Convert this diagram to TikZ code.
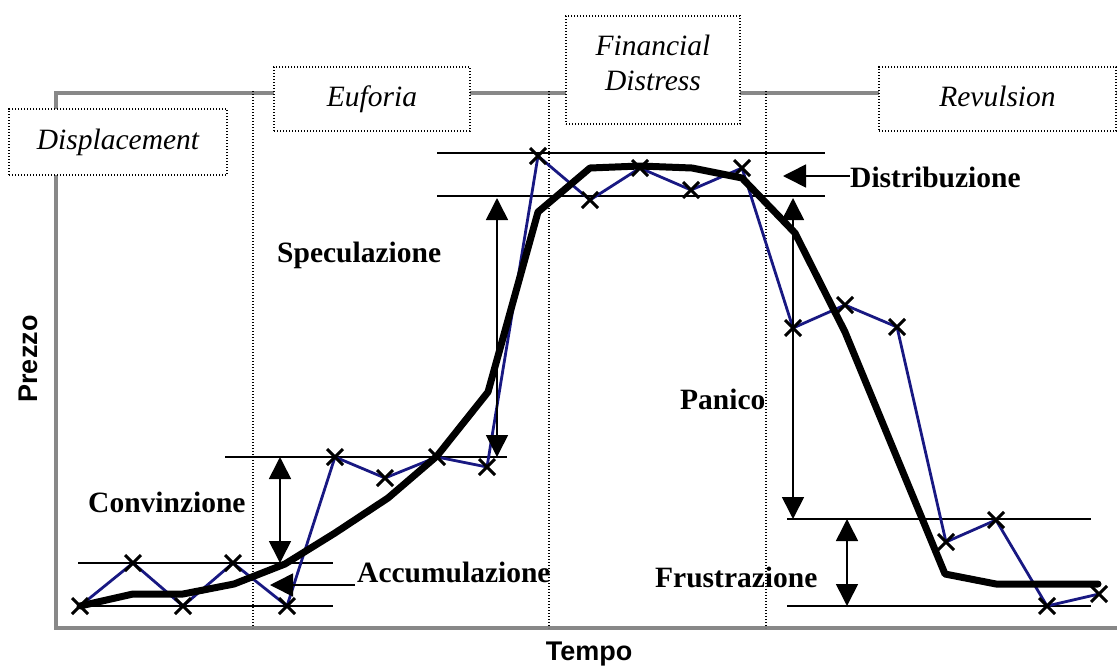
\documentclass[tikz,border=0pt]{standalone}
\usepackage{fontspec}
\setmainfont{Liberation Serif}
\newfontfamily\axisfont{Liberation Sans}
\usetikzlibrary{arrows.meta}
\definecolor{framegray}{RGB}{136,136,136}
\definecolor{pricenavy}{RGB}{24,24,130}
\begin{document}
\begin{tikzpicture}[x=1pt,y=-1pt,
  frameline/.style={draw=framegray,line width=4pt},
  phasesep/.style={line width=1.3pt,dash pattern=on 1.3pt off 1.7pt},
  phasebox/.style={draw,fill=white,line width=1.5pt,dash pattern=on 1.3pt off 1.7pt,
    inner sep=0pt,font=\fontsize{29.5}{35}\selectfont\itshape,text height=20pt,text depth=6pt},
  phasetext/.style={inner sep=0pt,font=\fontsize{29.5}{35}\selectfont\itshape,align=center},
  stage/.style={inner sep=0pt,font=\fontsize{29.5}{35}\selectfont\bfseries,anchor=base west},
  axislabel/.style={inner sep=0pt,font=\axisfont\fontsize{27}{31}\selectfont\bfseries},
  level/.style={line width=1.6pt},
  dimarrow/.style={line width=1.6pt,{Triangle[width=22pt,length=22pt]}-{Triangle[width=22pt,length=22pt]}},
  onearrow/.style={line width=1.6pt,-{Triangle[width=23pt,length=23pt]}},
  price/.style={draw=pricenavy,line width=2.8pt,line join=round},
  trend/.style={line width=7pt,line join=round,line cap=round},
  xcross/.pic={\draw[line width=3pt] (-8,-8)--(8,8) (-8,8)--(8,-8);}
]
\useasboundingbox (0,0) rectangle (1117,665);

% frame
\draw[frameline] (56,628) -- (56,93) -- (1117,93);
\draw[frameline] (54,628) -- (1117,628);

% phase separators
\foreach \sx in {253,549,766} \draw[phasesep] (\sx,91) -- (\sx,628);

% phase boxes
\node[phasebox,minimum width=218pt,minimum height=66pt] (displ) at (118,142) {Displacement};
\node[phasebox,minimum width=196pt,minimum height=64pt] (eufo) at (372,99) {Euforia};
\node[phasebox,minimum width=174pt,minimum height=108pt] (fdist) at (653,70) {};
\node[phasetext] (fdtext) at (653,62.5) {Financial\\Distress};
\node[phasebox,minimum width=237pt,minimum height=64pt] (revul) at (997.5,99) {Revulsion};

% level lines
\draw[level] (78,563) -- (333,563);
\draw[level] (78,606) -- (333,606);
\draw[level] (225,457) -- (507,457);
\draw[level] (437,153) -- (825,153);
\draw[level] (437,196) -- (825,196);
\draw[level] (787,519) -- (1091,519);
\draw[level] (787,606) -- (1091,606);

% price line
\draw[price] (80,606) -- (133,563) -- (183,606) -- (233,563) -- (287,606) -- (335,457)
  -- (385,478) -- (437,457) -- (487,467) -- (538,156) -- (590,200) -- (640,168)
  -- (691,190) -- (742,168) -- (793,328) -- (845,305) -- (897,327) -- (946,542)
  -- (996,520) -- (1047,606) -- (1099,594);

% trend line
\draw[trend] (80,606) -- (133,594) -- (183,594) -- (234,584) -- (285,564) -- (335,533)
  -- (388,498) -- (437,456) -- (488,392) -- (538,212) -- (590,168) -- (640,166)
  -- (692,168) -- (742,178) -- (795,233) -- (845,332) -- (945,574) -- (996,584) -- (1098,584);

% markers
\foreach \px/\py in {80/606,133/563,183/606,233/563,287/606,335/457,385/478,437/457,
  487/467,538/156,590/200,640/168,691/190,742/168,793/328,845/305,897/327,946/542,
  996/520,1047/606,1099/594}
  \pic at (\px,\py) {xcross};

% stage labels
\node[stage] (spec) at (277,262) {Speculazione};
\node[stage] (conv) at (88,512) {Convinzione};
\node[stage] (accu) at (357,582) {Accumulazione};
\node[stage] (distr) at (850,187) {Distribuzione};
\node[stage] (pani) at (680,409) {Panico};
\node[stage] (frus) at (655,587) {Frustrazione};

% arrows
\coordinate (convA) at (280,457);
\coordinate (convB) at (280,563);
\coordinate (specA) at (497,198);
\coordinate (specB) at (497,457);
\coordinate (panA) at (793,198);
\coordinate (panB) at (793,519);
\coordinate (frusA) at (847,519);
\coordinate (frusB) at (847,606);
\coordinate (distTip) at (783,176);
\coordinate (accTail) at (355,585);
\coordinate (accTip) at (270,585);
\draw[dimarrow] (convA) -- (convB);
\draw[dimarrow] (specA) -- (specB);
\draw[dimarrow] (panA) -- (panB);
\draw[dimarrow] (frusA) -- (frusB);
\draw[onearrow] (distr.west |- distTip) -- (distTip);
\draw[onearrow] (accTail) -- (accTip);

% axis labels
\node[axislabel,rotate=90] (prezzo) at (28,359) {Prezzo};
\node[axislabel] (tempo) at (589,654) {Tempo};
\end{tikzpicture}
\end{document}
